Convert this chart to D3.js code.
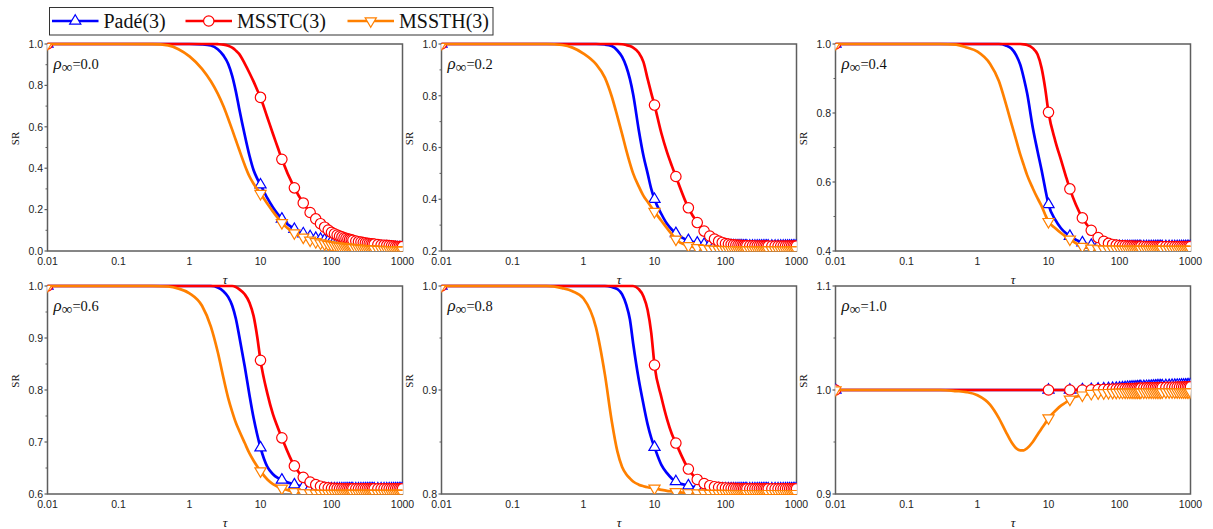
<!DOCTYPE html>
<html>
<head>
<meta charset="utf-8">
<script src="https://cdn.jsdelivr.net/npm/d3@7"></script>
<style>
  body { margin: 0; background: #fff; }
  svg { display: block; }
</style>
</head>
<body>
<svg id="chart" width="1213" height="529"></svg>
<script>
// Sample points of tau shared by every curve (markers sit at 0.01 and every multiple of 10)
const tau = [
  0.01, 0.1, 0.3, 0.5, 0.7, 1, 1.5, 2, 2.5, 3, 3.5, 4, 4.5, 5, 6, 7, 8, 9, 10, 12.5, 15, 17.5, 20,
  30, 40, 50, 60, 70, 80, 90, 100,
  110, 120, 130, 140, 150, 160, 170, 180, 190, 200,
  220, 240, 260, 280, 300, 320, 340, 360, 380, 400,
  450, 500, 550, 600, 650, 700, 750, 800, 850, 900, 950, 1000
];

const xTickValues = [0.01, 0.1, 1, 10, 100, 1000];
const xTickLabels = ["0.01", "0.1", "1", "10", "100", "1000"];

const seriesNames = ["Padé(3)", "MSSTC(3)", "MSSTH(3)"];
const seriesColors = ["#0000ff", "#ff0000", "#ff8000"];
const seriesMarkers = ["up", "circle", "down"];

const rhoLabels = ["0.0", "0.2", "0.4", "0.6", "0.8", "1.0"];
const yDomains = [[0, 1], [0.2, 1], [0.4, 1], [0.6, 1], [0.8, 1], [0.9, 1.1]];
const yMajorTicks = [
  [0, 0.2, 0.4, 0.6, 0.8, 1.0],
  [0.2, 0.4, 0.6, 0.8, 1.0],
  [0.4, 0.6, 0.8, 1.0],
  [0.6, 0.7, 0.8, 0.9, 1.0],
  [0.8, 0.9, 1.0],
  [0.9, 1.0, 1.1]
];
const yMinorTicks = [
  [0.1, 0.3, 0.5, 0.7, 0.9],
  [0.3, 0.5, 0.7, 0.9],
  [0.5, 0.7, 0.9],
  [0.65, 0.75, 0.85, 0.95],
  [0.85, 0.95],
  [0.95, 1.05]
];

// ---- rho_inf = 0.0 ----
const pade00 = [
  1, 1, 1, 1, 1, 1, 0.998, 0.993, 0.975, 0.945, 0.905, 0.845, 0.77, 0.69, 0.56, 0.46, 0.39, 0.35, 0.32, 0.255, 0.21, 0.178, 0.155,
  0.105, 0.084, 0.07, 0.062, 0.057, 0.053, 0.05, 0.048,
  0.046, 0.044, 0.042, 0.041, 0.039, 0.038, 0.037, 0.036, 0.035, 0.034,
  0.032, 0.031, 0.029, 0.028, 0.027, 0.026, 0.025, 0.025, 0.024, 0.023,
  0.022, 0.021, 0.020, 0.019, 0.018, 0.018, 0.017, 0.017, 0.016, 0.016, 0.015, 0.015
];
const msstc00 = [
  1, 1, 1, 1, 1, 1, 1, 1, 0.999, 0.997, 0.992, 0.982, 0.968, 0.952, 0.905, 0.86, 0.818, 0.778, 0.742, 0.645, 0.565, 0.5, 0.443,
  0.305, 0.232, 0.186, 0.155, 0.132, 0.115, 0.101, 0.09,
  0.083, 0.077, 0.072, 0.068, 0.064, 0.061, 0.058, 0.056, 0.054, 0.052,
  0.048, 0.045, 0.043, 0.041, 0.039, 0.037, 0.036, 0.035, 0.034, 0.033,
  0.031, 0.029, 0.028, 0.027, 0.026, 0.025, 0.024, 0.023, 0.022, 0.022, 0.021, 0.021
];
const mssth00 = [
  1, 1, 0.999, 0.993, 0.975, 0.94, 0.88, 0.82, 0.76, 0.70, 0.64, 0.585, 0.535, 0.49, 0.415, 0.36, 0.325, 0.298, 0.277, 0.228, 0.19, 0.16, 0.136,
  0.087, 0.066, 0.052, 0.044, 0.038, 0.034, 0.031, 0.028,
  0.026, 0.024, 0.022, 0.021, 0.020, 0.019, 0.018, 0.017, 0.016, 0.015,
  0.014, 0.013, 0.012, 0.011, 0.010, 0.0095, 0.009, 0.0085, 0.008, 0.0075,
  0.007, 0.0065, 0.006, 0.0055, 0.005, 0.0047, 0.0044, 0.0042, 0.004, 0.0038, 0.0036, 0.0034
];

// ---- rho_inf = 0.2 ----
const pade02 = [
  1, 1, 1, 1, 1, 1, 1, 0.998, 0.992, 0.975, 0.95, 0.913, 0.865, 0.806, 0.668, 0.567, 0.5, 0.44, 0.4, 0.343, 0.305, 0.283, 0.268,
  0.241, 0.231, 0.226, 0.224, 0.2225, 0.222, 0.2215, 0.221,
  0.221, 0.2205, 0.2205, 0.220, 0.220, 0.220, 0.220, 0.2198, 0.2196, 0.2195,
  0.2194, 0.2193, 0.2192, 0.2191, 0.219, 0.219, 0.219, 0.219, 0.219, 0.219,
  0.219, 0.219, 0.219, 0.219, 0.219, 0.219, 0.219, 0.219, 0.219, 0.219, 0.219, 0.219
];
const msstc02 = [
  1, 1, 1, 1, 1, 1, 1, 1, 1, 1, 0.999, 0.996, 0.992, 0.986, 0.966, 0.93, 0.865, 0.81, 0.764, 0.655, 0.582, 0.53, 0.488,
  0.367, 0.31, 0.277, 0.258, 0.246, 0.238, 0.233, 0.229,
  0.227, 0.225, 0.224, 0.223, 0.222, 0.222, 0.221, 0.221, 0.2205, 0.2203,
  0.220, 0.2198, 0.2196, 0.2194, 0.2193, 0.2192, 0.2191, 0.219, 0.219, 0.219,
  0.219, 0.219, 0.219, 0.219, 0.219, 0.219, 0.219, 0.219, 0.219, 0.219, 0.219, 0.219
];
const mssth02 = [
  1, 1, 1, 0.996, 0.986, 0.963, 0.922, 0.87, 0.797, 0.72, 0.652, 0.59, 0.54, 0.5, 0.45, 0.413, 0.39, 0.37, 0.352, 0.317, 0.288, 0.265, 0.245,
  0.22, 0.212, 0.209, 0.207, 0.206, 0.2055, 0.205, 0.2048,
  0.2046, 0.2044, 0.2042, 0.204, 0.2039, 0.2038, 0.2037, 0.2036, 0.2035, 0.2034,
  0.2033, 0.2032, 0.2031, 0.203, 0.203, 0.203, 0.203, 0.203, 0.203, 0.203,
  0.203, 0.203, 0.203, 0.203, 0.203, 0.203, 0.203, 0.203, 0.203, 0.203, 0.203, 0.203
];

// ---- rho_inf = 0.4 ----
const pade04 = [
  1, 1, 1, 1, 1, 1, 1, 1, 0.996, 0.987, 0.968, 0.94, 0.9, 0.857, 0.758, 0.69, 0.634, 0.58, 0.535, 0.49, 0.466, 0.452, 0.443,
  0.424, 0.417, 0.415, 0.414, 0.4137, 0.4135, 0.4133, 0.4132,
  0.413, 0.413, 0.413, 0.413, 0.413, 0.413, 0.413, 0.413, 0.413, 0.413,
  0.413, 0.413, 0.413, 0.413, 0.413, 0.413, 0.413, 0.413, 0.413, 0.413,
  0.413, 0.413, 0.413, 0.413, 0.413, 0.413, 0.413, 0.413, 0.413, 0.413, 0.413, 0.413
];
const msstc04 = [
  1, 1, 1, 1, 1, 1, 1, 1, 1, 1, 1, 1, 0.999, 0.997, 0.988, 0.97, 0.93, 0.87, 0.802, 0.718, 0.664, 0.618, 0.58,
  0.496, 0.46, 0.439, 0.428, 0.422, 0.419, 0.417, 0.416,
  0.415, 0.415, 0.4145, 0.4142, 0.414, 0.4138, 0.4136, 0.4135, 0.4134, 0.4133,
  0.4132, 0.4131, 0.413, 0.413, 0.413, 0.413, 0.413, 0.413, 0.413, 0.413,
  0.413, 0.413, 0.413, 0.413, 0.413, 0.413, 0.413, 0.413, 0.413, 0.413, 0.413, 0.413
];
const mssth04 = [
  1, 1, 1, 0.998, 0.99, 0.978, 0.943, 0.893, 0.828, 0.77, 0.722, 0.68, 0.648, 0.62, 0.582, 0.553, 0.53, 0.505, 0.485, 0.466, 0.452, 0.442, 0.434,
  0.413, 0.408, 0.406, 0.405, 0.405, 0.4048, 0.4046, 0.4045,
  0.4044, 0.4043, 0.4042, 0.4041, 0.404, 0.404, 0.404, 0.404, 0.404, 0.404,
  0.404, 0.404, 0.404, 0.404, 0.404, 0.404, 0.404, 0.404, 0.404, 0.404,
  0.404, 0.404, 0.404, 0.404, 0.404, 0.404, 0.404, 0.404, 0.404, 0.404, 0.404, 0.404
];

// ---- rho_inf = 0.6 ----
const pade06 = [
  1, 1, 1, 1, 1, 1, 1, 1, 0.997, 0.99, 0.979, 0.962, 0.937, 0.905, 0.845, 0.79, 0.746, 0.714, 0.689, 0.652, 0.638, 0.631, 0.627,
  0.618, 0.614, 0.612, 0.611, 0.6105, 0.6102, 0.61, 0.61,
  0.61, 0.61, 0.61, 0.61, 0.61, 0.61, 0.61, 0.61, 0.61, 0.61,
  0.61, 0.61, 0.61, 0.61, 0.61, 0.61, 0.61, 0.61, 0.61, 0.61,
  0.61, 0.61, 0.61, 0.61, 0.61, 0.61, 0.61, 0.61, 0.61, 0.61, 0.61, 0.61
];
const msstc06 = [
  1, 1, 1, 1, 1, 1, 1, 1, 1, 1, 1, 1, 0.998, 0.994, 0.984, 0.968, 0.942, 0.902, 0.857, 0.793, 0.753, 0.728, 0.708,
  0.654, 0.632, 0.623, 0.618, 0.615, 0.613, 0.612, 0.611,
  0.6108, 0.6106, 0.6104, 0.6102, 0.61, 0.61, 0.61, 0.61, 0.61, 0.61,
  0.61, 0.61, 0.61, 0.61, 0.61, 0.61, 0.61, 0.61, 0.61, 0.61,
  0.61, 0.61, 0.61, 0.61, 0.61, 0.61, 0.61, 0.61, 0.61, 0.61, 0.61, 0.61
];
const mssth06 = [
  1, 1, 1, 0.999, 0.995, 0.986, 0.962, 0.922, 0.873, 0.824, 0.785, 0.758, 0.737, 0.722, 0.698, 0.678, 0.664, 0.653, 0.644, 0.628, 0.619, 0.614, 0.611,
  0.604, 0.602, 0.6015, 0.6012, 0.601, 0.601, 0.601, 0.601,
  0.601, 0.601, 0.601, 0.601, 0.601, 0.601, 0.601, 0.601, 0.601, 0.601,
  0.601, 0.601, 0.601, 0.601, 0.601, 0.601, 0.601, 0.601, 0.601, 0.601,
  0.601, 0.601, 0.601, 0.601, 0.601, 0.601, 0.601, 0.601, 0.601, 0.601, 0.601, 0.601
];

// ---- rho_inf = 0.8 ----
const pade08 = [
  1, 1, 1, 1, 1, 1, 1, 1, 0.999, 0.997, 0.992, 0.982, 0.968, 0.945, 0.91, 0.886, 0.867, 0.854, 0.845, 0.828, 0.82, 0.815, 0.812,
  0.808, 0.806, 0.8055, 0.8053, 0.8052, 0.8051, 0.805, 0.805,
  0.805, 0.805, 0.805, 0.805, 0.805, 0.805, 0.805, 0.805, 0.805, 0.805,
  0.805, 0.805, 0.805, 0.805, 0.805, 0.805, 0.805, 0.805, 0.805, 0.805,
  0.805, 0.805, 0.805, 0.805, 0.805, 0.805, 0.805, 0.805, 0.805, 0.805, 0.805, 0.805
];
const msstc08 = [
  1, 1, 1, 1, 1, 1, 1, 1, 1, 1, 1, 1, 1, 1, 0.997, 0.99, 0.977, 0.955, 0.924, 0.893, 0.872, 0.858, 0.849,
  0.824, 0.814, 0.81, 0.808, 0.807, 0.8065, 0.806, 0.8058,
  0.8056, 0.8055, 0.8054, 0.8053, 0.8052, 0.8051, 0.805, 0.805, 0.805, 0.805,
  0.805, 0.805, 0.805, 0.805, 0.805, 0.805, 0.805, 0.805, 0.805, 0.805,
  0.805, 0.805, 0.805, 0.805, 0.805, 0.805, 0.805, 0.805, 0.805, 0.805, 0.805, 0.805
];
const mssth08 = [
  1, 1, 1, 0.998, 0.995, 0.988, 0.96, 0.915, 0.87, 0.841, 0.826, 0.819, 0.815, 0.812, 0.809, 0.8075, 0.8065, 0.806, 0.8055, 0.804, 0.803, 0.8025, 0.802,
  0.801, 0.8008, 0.8006, 0.8005, 0.8005, 0.8004, 0.8004, 0.8004,
  0.8003, 0.8003, 0.8003, 0.8003, 0.8003, 0.8003, 0.8003, 0.8003, 0.8003, 0.8003,
  0.8003, 0.8003, 0.8003, 0.8003, 0.8003, 0.8003, 0.8003, 0.8003, 0.8003, 0.8003,
  0.8003, 0.8003, 0.8003, 0.8003, 0.8003, 0.8003, 0.8003, 0.8003, 0.8003, 0.8003, 0.8003, 0.8003
];

// ---- rho_inf = 1.0 ----
const pade10 = [
  1, 1, 1, 1, 1, 1, 1, 1, 1, 1, 1, 1, 1, 1, 1, 1, 1, 1, 1, 1, 1, 1, 1,
  1.0003, 1.0006, 1.0009, 1.0012, 1.0014, 1.0016, 1.0018, 1.002,
  1.0022, 1.0024, 1.0026, 1.0027, 1.0028, 1.0029, 1.003, 1.0031, 1.0032, 1.0033,
  1.0034, 1.0035, 1.0036, 1.0037, 1.0038, 1.0039, 1.004, 1.004, 1.0041, 1.0042,
  1.0043, 1.0044, 1.0045, 1.0046, 1.0047, 1.0047, 1.0048, 1.0048, 1.0049, 1.0049, 1.005, 1.005
];
const msstc10 = [
  1, 1, 1, 1, 1, 1, 1, 1, 1, 1, 1, 1, 1, 1, 1, 1, 1, 1, 1, 1, 1, 1, 1,
  1, 1.0002, 1.0004, 1.0006, 1.0007, 1.0008, 1.0009, 1.001,
  1.0011, 1.0012, 1.0013, 1.0014, 1.0015, 1.0015, 1.0016, 1.0017, 1.0017, 1.0018,
  1.0019, 1.002, 1.002, 1.0021, 1.0022, 1.0022, 1.0023, 1.0023, 1.0024, 1.0024,
  1.0025, 1.0026, 1.0027, 1.0027, 1.0028, 1.0028, 1.0029, 1.0029, 1.003, 1.003, 1.003, 1.003
];
const mssth10 = [
  1, 1, 1, 0.999, 0.998, 0.995, 0.986, 0.973, 0.96, 0.95, 0.944, 0.942, 0.942, 0.944, 0.95, 0.957, 0.963, 0.968, 0.973, 0.98, 0.985, 0.988, 0.991,
  0.995, 0.9965, 0.997, 0.9972, 0.9974, 0.9975, 0.9976, 0.9977,
  0.9977, 0.9978, 0.9978, 0.9978, 0.9978, 0.9978, 0.9978, 0.9978, 0.9978, 0.9978,
  0.9979, 0.9979, 0.9979, 0.9979, 0.9979, 0.9979, 0.9979, 0.9979, 0.9979, 0.998,
  0.998, 0.998, 0.998, 0.998, 0.998, 0.998, 0.998, 0.998, 0.998, 0.998, 0.998, 0.998
];

const panelSeries = [
  [pade00, msstc00, mssth00],
  [pade02, msstc02, mssth02],
  [pade04, msstc04, mssth04],
  [pade06, msstc06, mssth06],
  [pade08, msstc08, mssth08],
  [pade10, msstc10, mssth10]
];

// ---------------- layout ----------------
const colX = [47.5, 441.5, 835.5];
const rowY = [44, 286];
const plotW = 355;
const plotH = [207, 208];

const sansFont = "'Liberation Sans', Arial, sans-serif";
const serifFont = "'Liberation Serif', 'Times New Roman', serif";
const frameColor = "#5e5e5e";

const svg = d3.select("#chart");
svg.append("rect").attr("width", 1213).attr("height", 529).attr("fill", "#fff");

const upTri = "M0,-6.3L5.6,3.2L-5.6,3.2Z";
const downTri = "M0,6.3L5.6,-3.2L-5.6,-3.2Z";

function drawMarker(sel, kind, color) {
  if (kind === "circle") {
    sel.append("circle").attr("r", 5.2)
      .attr("fill", "#fff").attr("stroke", color).attr("stroke-width", 1.2);
  } else {
    sel.append("path").attr("d", kind === "up" ? upTri : downTri)
      .attr("fill", "#fff").attr("stroke", color).attr("stroke-width", 1.2)
      .attr("stroke-linejoin", "miter");
  }
}

const isMarked = (t, i) => i === 0 || (t >= 10 && t % 10 === 0);
const fmt = d3.format(".1f");

panelSeries.forEach((series, p) => {
  const col = p % 3, row = Math.floor(p / 3);
  const w = plotW, h = plotH[row];
  const g = svg.append("g").attr("transform", `translate(${colX[col]},${rowY[row]})`);

  const x = d3.scaleLog().domain([0.01, 1000]).range([0, w]);
  const y = d3.scaleLinear().domain(yDomains[p]).range([h, 0]);

  const clipId = "clip" + p;
  g.append("clipPath").attr("id", clipId)
    .append("rect").attr("x", 0).attr("y", 0).attr("width", w).attr("height", h);

  // frame
  g.append("rect").attr("x", 0).attr("y", 0).attr("width", w).attr("height", h)
    .attr("fill", "none").attr("stroke", frameColor).attr("stroke-width", 1.5);

  // y axis ticks and labels
  g.selectAll(".ymaj").data(yMajorTicks[p]).join("line")
    .attr("x1", -3).attr("x2", 0)
    .attr("y1", d => y(d)).attr("y2", d => y(d))
    .attr("stroke", frameColor).attr("stroke-width", 1.2);
  g.selectAll(".ymin").data(yMinorTicks[p]).join("line")
    .attr("x1", -2).attr("x2", 0)
    .attr("y1", d => y(d)).attr("y2", d => y(d))
    .attr("stroke", frameColor).attr("stroke-width", 1);
  g.selectAll(".ylab").data(yMajorTicks[p]).join("text")
    .attr("x", -4.5).attr("y", d => y(d)).attr("dy", "0.36em")
    .attr("text-anchor", "end")
    .attr("font-family", sansFont).attr("font-size", 10.5).attr("fill", "#222")
    .text(d => fmt(d));

  // x axis labels
  g.selectAll(".xlab").data(xTickValues).join("text")
    .attr("x", d => x(d)).attr("y", h + 13.5)
    .attr("text-anchor", "middle")
    .attr("font-family", sansFont).attr("font-size", 10.5).attr("fill", "#222")
    .text((d, i) => xTickLabels[i]);

  // axis titles
  g.append("text")
    .attr("transform", `translate(-28.5,${h / 2 - 9}) rotate(-90)`)
    .attr("text-anchor", "middle")
    .attr("font-family", serifFont).attr("font-size", 11).attr("fill", "#111")
    .text("SR");
  g.append("text")
    .attr("x", w / 2).attr("y", h + 33)
    .attr("text-anchor", "middle")
    .attr("font-family", serifFont).attr("font-style", "italic")
    .attr("font-size", 13).attr("fill", "#111")
    .text("τ");

  // rho_inf annotation
  const ann = g.append("text").attr("x", 6).attr("y", 24.5)
    .attr("font-family", serifFont).attr("fill", "#111");
  ann.append("tspan").attr("font-style", "italic").attr("font-size", 17).text("ρ");
  ann.append("tspan").attr("font-size", 15).attr("dy", 3).text("∞");
  ann.append("tspan").attr("font-size", 14.5).attr("dy", -3).text("=" + rhoLabels[p]);

  // curves
  const line = d3.line()
    .x(d => x(d[0])).y(d => y(d[1]))
    .curve(d3.curveMonotoneX);

  series.forEach((vals, s) => {
    const pts = tau.map((t, i) => [t, vals[i]]);
    g.append("path").datum(pts)
      .attr("d", line)
      .attr("fill", "none")
      .attr("stroke", seriesColors[s])
      .attr("stroke-width", 2.7)
      .attr("stroke-linejoin", "round");

    const mg = g.append("g").attr("clip-path", `url(#${clipId})`);
    pts.filter((d, i) => isMarked(d[0], i)).forEach(d => {
      const m = mg.append("g").attr("transform", `translate(${x(d[0])},${y(d[1])})`);
      drawMarker(m, seriesMarkers[s], seriesColors[s]);
    });
  });
});

// ---------------- legend ----------------
const legend = svg.append("g");
legend.append("rect")
  .attr("x", 49.5).attr("y", 7.5).attr("width", 443.5).attr("height", 27.5)
  .attr("fill", "#fff").attr("stroke", "#333").attr("stroke-width", 1);

const legendLineX = [52, 185.5, 347.5];
const legendLineLen = 46.5;
seriesNames.forEach((name, s) => {
  const lx = legendLineX[s];
  legend.append("line")
    .attr("x1", lx).attr("x2", lx + legendLineLen)
    .attr("y1", 21).attr("y2", 21)
    .attr("stroke", seriesColors[s]).attr("stroke-width", 2.7);
  const m = legend.append("g").attr("transform", `translate(${lx + legendLineLen / 2},21)`);
  drawMarker(m, seriesMarkers[s], seriesColors[s]);
  legend.append("text")
    .attr("x", lx + legendLineLen + 5).attr("y", 28)
    .attr("font-family", serifFont).attr("font-size", 20).attr("fill", "#111")
    .text(name);
});
</script>
</body>
</html>
